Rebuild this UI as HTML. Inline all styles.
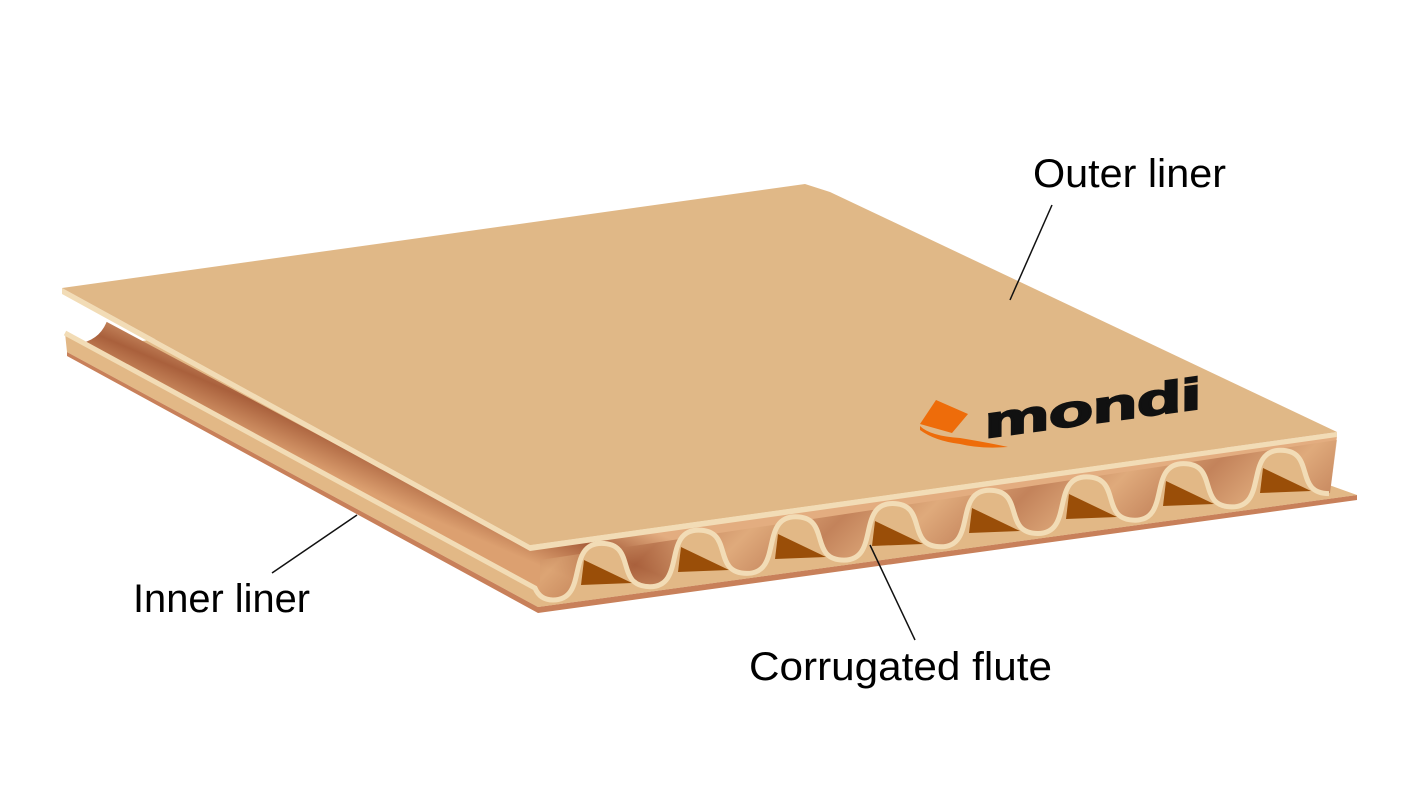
<!DOCTYPE html>
<html><head><meta charset="utf-8"><style>
html,body{margin:0;padding:0;background:#fff;width:1420px;height:799px;overflow:hidden}
svg{display:block}
text{font-family:"Liberation Sans",sans-serif}
</style></head><body>
<svg width="1420" height="799" viewBox="0 0 1420 799" xmlns="http://www.w3.org/2000/svg">
<defs>
<linearGradient id="fl" gradientUnits="userSpaceOnUse" x1="300" y1="380" x2="270" y2="450">
<stop offset="0" stop-color="#e3ad80"/><stop offset="0.5" stop-color="#a9603c"/><stop offset="1" stop-color="#dca070"/>
</linearGradient>
<linearGradient id="fl2" gradientUnits="userSpaceOnUse" x1="0" y1="0" x2="40" y2="40" spreadMethod="reflect">
<stop offset="0" stop-color="#dca878"/><stop offset="1" stop-color="#a9603c"/>
</linearGradient>
</defs>
<polygon points="67,352 700,260 1357,495 538,607" fill="#e2b886"/>
<polygon points="67,352 538,607 1357,495 1357,500 538,613 67,356" fill="#c8805a"/>
<polygon points="62,298 530,548 1337,436 1330,493 540,600 65,331" fill="url(#fl)"/>
<polygon points="540,560 1337,440 1330,493 540,600" fill="url(#fl2)" opacity="0.55"/>
<path d="M62,296 L108,318 Q102,338 82,343 L62,333 Z" fill="#fff"/>
<path d="M65,333 L535,588 Q540,600 553,600 C589,600 565.5,543.4 601.5,543.4 S614,586.7 650,586.7 S662.5,530.1 698.5,530.1 S711,573.4 747,573.4 S759.5,516.8 795.5,516.8 S808,560.1 844,560.1 S856.5,503.5 892.5,503.5 S905,546.8 941,546.8 S953.5,490.2 989.5,490.2 S1002,533.5 1038,533.5 S1050.5,476.9 1086.5,476.9 S1099,520.2 1135,520.2 S1147.5,463.6 1183.5,463.6 S1196,506.9 1232,506.9 S1244.5,450.3 1280.5,450.3 S1293,493.6 1329,493.6 L1357,495 L538,607 L67,352 Z" fill="#e2b886"/>
<g fill="#9a4e08">
<polygon points="584,560 581,585 632,583"/>
<polygon points="681,547 678,572 729,570"/>
<polygon points="778,534 775,559 826,557"/>
<polygon points="875,521 872,546 923,544"/>
<polygon points="972,508 969,533 1020,531"/>
<polygon points="1069,494 1066,519 1117,517"/>
<polygon points="1166,481 1163,506 1214,504"/>
<polygon points="1263,468 1260,493 1311,491"/>
</g>
<path d="M65,333 L535,588 Q540,600 553,600 C589,600 565.5,543.4 601.5,543.4 S614,586.7 650,586.7 S662.5,530.1 698.5,530.1 S711,573.4 747,573.4 S759.5,516.8 795.5,516.8 S808,560.1 844,560.1 S856.5,503.5 892.5,503.5 S905,546.8 941,546.8 S953.5,490.2 989.5,490.2 S1002,533.5 1038,533.5 S1050.5,476.9 1086.5,476.9 S1099,520.2 1135,520.2 S1147.5,463.6 1183.5,463.6 S1196,506.9 1232,506.9 S1244.5,450.3 1280.5,450.3 S1293,493.6 1329,493.6" fill="none" stroke="#f2dcb6" stroke-width="5"/>
<polygon points="62,288 530,545 1337,432 1337,437 530,551 62,294" fill="#f2dcb6"/>
<polygon points="62,288 805,184 830,192 1337,432 530,545" fill="#e0b887"/>
<polygon points="920,424 936,400 968,414 952,433" fill="#ee6c0a"/>
<path d="M920,426 Q930,436 960,438 Q990,443 1008,447 Q980,449 960,444 Q935,441 920,430 Z" fill="#ee6c0a"/>
<text x="0" y="0" transform="translate(985,438) rotate(-7.8) skewX(-8)" font-size="44" font-weight="bold" fill="#111" textLength="218" lengthAdjust="spacingAndGlyphs" stroke="#111" stroke-width="2">mondi</text>
<g stroke="#111" stroke-width="1.5">
<line x1="1052" y1="205" x2="1010" y2="300"/>
<line x1="272" y1="573" x2="357" y2="515"/>
<line x1="915" y1="640" x2="870" y2="545"/>
</g>
<text x="1033" y="187" font-size="40" fill="#000" textLength="193" lengthAdjust="spacingAndGlyphs">Outer liner</text>
<text x="133" y="612" font-size="40" fill="#000" textLength="177" lengthAdjust="spacingAndGlyphs">Inner liner</text>
<text x="749" y="680" font-size="40" fill="#000" textLength="303" lengthAdjust="spacingAndGlyphs">Corrugated flute</text>
</svg>
</body></html>
